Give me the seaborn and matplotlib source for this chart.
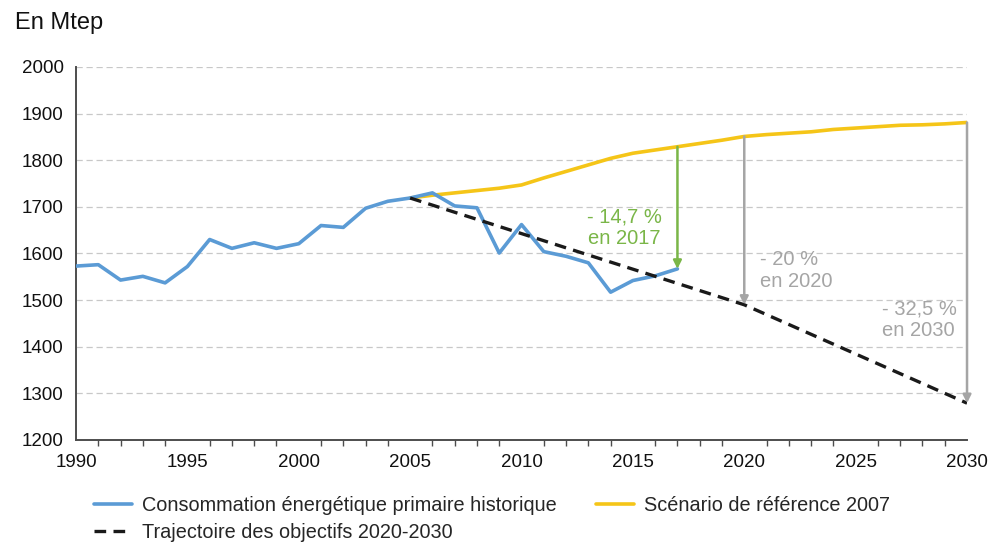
import pandas as pd
import matplotlib.pyplot as plt
import seaborn as sns

# Historical primary energy consumption (Mtep)
hist_years = list(range(1990, 2018))
hist_values = [1573, 1576, 1543, 1551, 1537, 1572, 1630, 1611, 1623, 1611,
               1621, 1660, 1656, 1697, 1712, 1719, 1730, 1702, 1698, 1601,
               1662, 1604, 1594, 1580, 1517, 1542, 1552, 1567]

# Reference scenario 2007
ref_years = list(range(2005, 2031))
ref_values = [1719, 1725, 1730, 1735, 1740, 1747, 1762, 1776, 1790, 1804,
              1815, 1822, 1829, 1836, 1843, 1851, 1855, 1858, 1861, 1866,
              1869, 1872, 1875, 1876, 1878, 1881]

# Target trajectory 2020-2030
target_years = [2005, 2020, 2030]
target_values = [1719, 1490, 1279]

# Gap annotations
gap_years = [2017, 2020, 2030]
gap_tops = [1829, 1851, 1881]
gap_bottoms = [1567, 1490, 1279]
gap_labels = ["- 14,7 %\nen 2017", "- 20 %\nen 2020", "- 32,5 %\nen 2030"]

blue = "#5b9bd5"
yellow = "#f5c518"
green = "#7ab648"
grey = "#a5a5a5"

sns.set_theme(style="white")
plt.rcParams['font.family'] = ['Liberation Sans', 'DejaVu Sans']

fig = plt.figure(figsize=(9.91, 5.42), dpi=100)
ax = fig.add_axes([0.0767, 0.1882, 0.8991, 0.6882])

hist = pd.DataFrame({"year": hist_years, "value": hist_values})
ref = pd.DataFrame({"year": ref_years, "value": ref_values})
target = pd.DataFrame({"year": target_years, "value": target_values})

sns.lineplot(data=ref, x="year", y="value", ax=ax, color=yellow, lw=2.6,
             label="Scénario de référence 2007", zorder=3)
sns.lineplot(data=hist, x="year", y="value", ax=ax, color=blue, lw=2.6,
             label="Consommation énergétique primaire historique", zorder=4)
sns.lineplot(data=target, x="year", y="value", ax=ax, color="#1a1a1a", lw=2.4,
             linestyle=(0, (3.5, 2.2)),
             label="Trajectoire des objectifs 2020-2030", zorder=5)

# arrows from the reference scenario down to the achieved / target level
colors = [green, grey, grey]
for yr, top, bot, c in zip(gap_years, gap_tops, gap_bottoms, colors):
    ax.annotate("", xy=(yr, bot), xytext=(yr, top),
                arrowprops=dict(arrowstyle="-|>", color=c, lw=1.8,
                                mutation_scale=12, shrinkA=0, shrinkB=0),
                zorder=6)

ax.text(2014.6, 1655, gap_labels[0], color=green, fontsize=14.5,
        ha="center", va="center", linespacing=1.2)
ax.text(2020.7, 1563, gap_labels[1], color=grey, fontsize=14.5,
        ha="left", va="center", linespacing=1.2)
ax.text(2026.2, 1458, gap_labels[2], color=grey, fontsize=14.5,
        ha="left", va="center", linespacing=1.2)

ax.set_xlim(1990, 2030)
ax.set_ylim(1200, 2000)
ax.set_xticks(range(1990, 2031, 5))
ax.set_xticks(range(1990, 2031), minor=True)
ax.set_yticks(range(1200, 2001, 100))
ax.set_xlabel("")
ax.set_ylabel("")

ax.grid(axis="y", color="#c8c8c8", linestyle=(0, (5, 3)), lw=0.9)
ax.set_axisbelow(True)
for s in ["top", "right"]:
    ax.spines[s].set_visible(False)
for s in ["left", "bottom"]:
    ax.spines[s].set_color("#4d4d4d")
    ax.spines[s].set_linewidth(1.4)
ax.tick_params(axis="both", which="major", direction="out", length=5,
               width=1.2, color="#4d4d4d", labelsize=13.5, labelcolor="#111111")
ax.tick_params(axis="x", which="minor", direction="out", length=4,
               width=1.0, color="#4d4d4d", bottom=True)
ax.tick_params(axis="y", pad=4)
ax.tick_params(axis="x", pad=5)

fig.text(0.015, 0.957, "En Mtep", fontsize=17, color="#111111",
         ha="left", va="center")

ax.get_legend().remove()
handles, labels = ax.get_legend_handles_labels()
# column-major fill: blue + dashed in column 1, yellow in column 2
order = [1, 2, 0]
fig.legend([handles[i] for i in order], [labels[i] for i in order],
           loc="upper left", bbox_to_anchor=(0.087, 0.1), ncol=2,
           frameon=False, fontsize=14.3, handlelength=1.9, handletextpad=0.5,
           columnspacing=2.0, labelspacing=0.4, borderaxespad=0)

fig.savefig("out.png", dpi=100)
